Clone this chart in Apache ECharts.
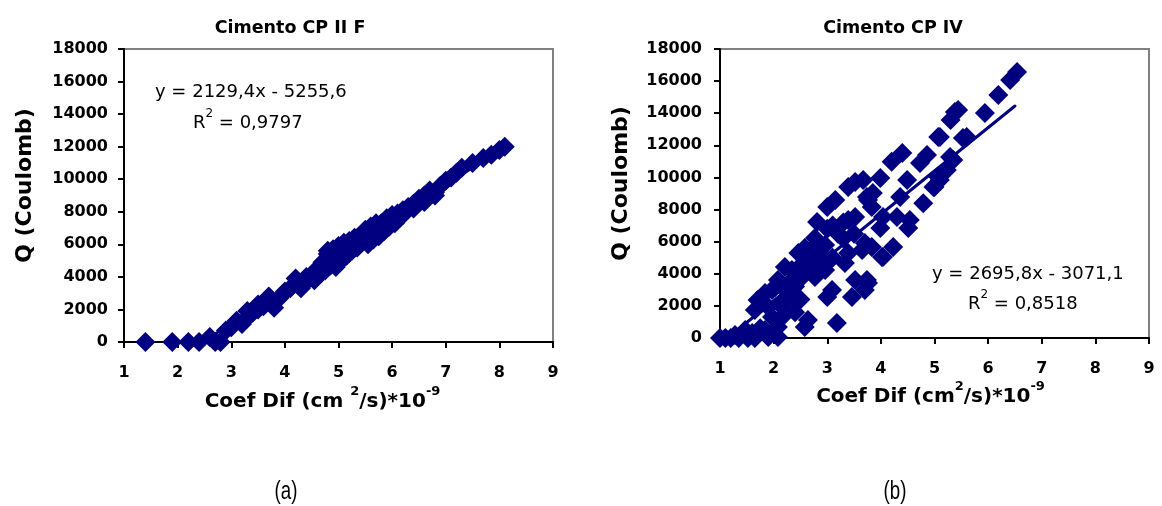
<!DOCTYPE html>
<html><head><meta charset="utf-8">
<script src="https://cdn.jsdelivr.net/npm/echarts@6/dist/echarts.min.js"></script>
<style>html,body{margin:0;padding:0;background:#fff}#c{width:1162px;height:506px}</style>
</head><body><div id="c"></div>
<script>
// ---- data ----
const titles = ['Cimento CP II F', 'Cimento CP IV'];
const captions = ['(a)', '(b)'];
const yTickLabels = ['0','2000','4000','6000','8000','10000','12000','14000','16000','18000'];
const xTickLabels = ['1','2','3','4','5','6','7','8','9'];

// Chart (a) Cimento CP II F : Coef Dif (x) vs Q (y)
const aX = [1.4,1.9,2.2,2.4,2.6,2.7,2.8,2.9,3.0,3.1,3.2,3.3,3.4,3.5,3.6,3.7,3.75,3.8,3.9,4.0,4.1,4.2,4.25,4.3,4.4,4.5,4.55,4.6,4.65,4.7,4.75,4.8,4.85,4.9,4.95,5.0,5.05,5.1,5.15,5.2,5.25,5.3,5.35,5.4,5.5,5.55,5.6,5.65,5.7,5.75,5.8,5.85,5.9,5.95,6.0,6.05,6.1,6.2,6.3,6.4,6.5,6.6,6.7,6.8,6.9,7.0,7.1,7.2,7.3,7.5,7.7,7.85,8.0,8.1,
  4.8,4.9,5.0,5.1,5.2,5.4,5.5,5.6,5.7,6.2,6.4,6.6,6.8,4.4,4.6,3.3,3.5];
const aY = [0,0,0,0,300,0,0,700,900,1300,1100,1500,1800,2000,2200,2800,2400,2100,2700,3100,3300,3900,3500,3300,3700,4100,3800,4500,4200,4900,4400,5400,4700,5100,4600,5300,5000,5700,5300,6200,5600,6400,5800,6100,6500,6000,6600,6300,6900,6500,7300,6800,7600,7100,7800,7300,7900,8100,8300,8500,8800,9000,9300,9200,9600,9900,10100,10400,10700,11000,11300,11500,11800,12000,
  5600,5700,5900,6100,5900,6500,6900,7100,7300,7800,8200,8600,9000,4000,4300,1900,2300];

// Chart (b) Cimento CP IV
const bX = [1.0,1.1,1.2,1.28,1.35,1.47,1.52,1.6,1.65,1.75,1.84,1.9,1.97,2.08,2.08,2.16,2.16,1.65,1.7,1.78,1.84,1.9,1.97,2.03,2.08,2.21,2.34,2.34,2.34,2.53,2.46,2.58,2.77,2.81,2.96,2.96,2.77,3.0,3.15,3.39,3.52,3.76,3.85,3.52,3.39,3.65,3.39,3.33,3.7,3.83,4.02,3.09,3.0,3.52,3.46,3.76,3.7,2.64,2.58,3.18,
  3.67,3.99,4.2,4.4,5.07,5.3,5.44,4.86,4.73,4.49,5.6,6.54,6.41,6.19,5.94,5.38,5.1,
  5.35,5.23,5.1,5.0,4.36,4.3,4.54,4.51,4.04,3.99,4.79,4.23,4.04,3.74,3.74,3.83,
  2.2,2.3,2.4,2.5,2.6,2.7,2.8,2.9,3.0,3.1,3.2,3.3,2.2,2.4,2.5,2.7,2.9,3.1,3.3,3.0,3.5,5.53,5.29,5.07,4.98];
const bY = [0,0,0,190,0,500,0,310,0,600,500,60,1310,690,60,1310,2180,1740,2370,2180,2800,1930,2990,3180,3610,4420,4240,3610,2550,3800,5300,5600,6230,7230,5790,4240,3800,8160,8600,9400,9720,8600,9030,7540,7350,5480,5300,4670,5920,5670,5050,2990,2550,3610,2550,3430,2990,1120,690,935,
  9840,9970,10970,11530,12520,13580,14200,11400,10900,9840,12520,16570,16070,15140,14020,14080,12520,
  11090,10470,9840,9400,8780,7540,7350,6850,7540,6850,8400,5670,5050,3610,8780,8160,
  3000,2800,3200,4500,4800,5500,4800,5200,6800,7000,6500,7200,1800,1600,2400,4200,4600,5000,6200,4800,6500,12460,11280,10030,9400];

// trendline equations as printed on the chart
const aSlope = 2129.4, aIntercept = -5255.6, aR2 = '0,9797', aEq = 'y = 2129,4x - 5255,6';
const bSlope = 2695.8, bIntercept = -3071.1, bR2 = '0,8518', bEq = 'y = 2695,8x - 3071,1';
const aLineX = [2.47, 8.1];
const bLineX = [1.14, 6.5];

// ---- chart ----
const FONT = 'DejaVu Sans';
const NAVY = '#000080';
const pts = (xs, ys) => xs.map((x, i) => [x, ys[i]]);
const line = (xs, m, c) => xs.map(x => [x, m * x + c]);

const grids = [
  {left: 124, top: 49, width: 429, height: 293},
  {left: 720, top: 49, width: 429, height: 289}
];
const xNames = [
  '{n|Coef Dif (cm }{s|2}{n|/s)*10}{s|-9}',
  '{n|Coef Dif (cm}{s|2}{n|/s)*10}{s|-9}'
];
const nameRich = {
  n: {fontFamily: FONT, fontWeight: 'bold', fontSize: 20, color: '#000', lineHeight: 27, verticalAlign: 'bottom'},
  s: {fontFamily: FONT, fontWeight: 'bold', fontSize: 13, color: '#000', lineHeight: 15, verticalAlign: 'top'}
};
const xNameGap = [43, 42];
const xNamePad = [[0, 32, 0, 0], [0, 8, 0, 0]];
const yLabelMargin = [16, 18];

function xAxis(i) {
  return {
    gridIndex: i, type: 'value', min: 1, max: 9, interval: 1,
    name: xNames[i], nameLocation: 'middle', nameGap: xNameGap[i], nameMoveOverlap: false,
    nameTextStyle: {rich: nameRich, padding: xNamePad[i]},
    axisLine: {show: true, onZero: false, lineStyle: {color: '#000', width: 2}},
    axisTick: {show: true, length: 6, lineStyle: {color: '#000', width: 2}},
    axisLabel: {margin: 23, fontFamily: FONT, fontWeight: 'bold', fontSize: 16, color: '#000',
      formatter: v => xTickLabels[Math.round(v) - 1]},
    splitLine: {show: false}
  };
}
function yAxis(i) {
  return {
    gridIndex: i, type: 'value', min: 0, max: 18000, interval: 2000,
    name: 'Q (Coulomb)', nameLocation: 'middle', nameGap: 88, nameRotate: 90, nameMoveOverlap: false,
    nameTextStyle: {fontFamily: FONT, fontWeight: 'bold', fontSize: 22, color: '#000', padding: [0, 0, 0, 20]},
    axisLine: {show: true, onZero: false, lineStyle: {color: '#000', width: 2}},
    axisTick: {show: true, length: 6, lineStyle: {color: '#000', width: 2}},
    axisLabel: {margin: yLabelMargin[i], fontFamily: FONT, fontWeight: 'bold', fontSize: 16, color: '#000',
      formatter: v => yTickLabels[Math.round(v / 2000)]},
    splitLine: {show: false}
  };
}

const chart = echarts.init(document.getElementById('c'), null, {renderer: 'canvas'});
const eqStyle = {fontFamily: FONT, fontSize: 18, fill: '#000', textAlign: 'left', textVerticalAlign: 'top'};
const r2Rich = {s: {fontFamily: FONT, fontSize: 12, verticalAlign: 'top', lineHeight: 13}, t: {fontFamily: FONT, fontSize: 18, lineHeight: 24, verticalAlign: 'bottom'}};
const capStyle = {fontFamily: 'Liberation Sans', fontSize: 26, fill: '#000', textAlign: 'center', textVerticalAlign: 'middle'};

chart.setOption({
  backgroundColor: '#fff',
  animation: false,
  title: [
    {text: titles[0], left: 285, top: 14, textAlign: 'center', textStyle: {fontFamily: FONT, fontWeight: 'bold', fontSize: 17.5, color: '#000'}},
    {text: titles[1], left: 888, top: 14, textAlign: 'center', textStyle: {fontFamily: FONT, fontWeight: 'bold', fontSize: 17.5, color: '#000'}}
  ],
  grid: grids.map(g => Object.assign({show: true, borderColor: '#808080', borderWidth: 2, backgroundColor: '#fff'}, g)),
  xAxis: [xAxis(0), xAxis(1)],
  yAxis: [yAxis(0), yAxis(1)],
  series: [
    {type: 'line', xAxisIndex: 0, yAxisIndex: 0, data: line(aLineX, aSlope, aIntercept), symbol: 'none',
      lineStyle: {color: NAVY, width: 3}, z: 1},
    {type: 'scatter', xAxisIndex: 0, yAxisIndex: 0, data: pts(aX, aY), symbol: 'diamond', symbolSize: 20,
      itemStyle: {color: NAVY, opacity: 1}, z: 2},
    {type: 'line', xAxisIndex: 1, yAxisIndex: 1, data: line(bLineX, bSlope, bIntercept), symbol: 'none',
      lineStyle: {color: NAVY, width: 3, cap: 'round'}, z: 3},
    {type: 'scatter', xAxisIndex: 1, yAxisIndex: 1, data: pts(bX, bY), symbol: 'diamond', symbolSize: 20,
      itemStyle: {color: NAVY, opacity: 1}, z: 2}
  ],
  graphic: [
    {type: 'text', x: 155, y: 83, z: 10, style: Object.assign({text: aEq}, eqStyle)},
    {type: 'text', x: 193, y: 108, z: 10, style: {text: '{t|R}{s|2}{t| = ' + aR2 + '}', rich: r2Rich, fill: '#000'}},
    {type: 'text', x: 932, y: 265, z: 10, style: Object.assign({text: bEq}, eqStyle)},
    {type: 'text', x: 968, y: 289, z: 10, style: {text: '{t|R}{s|2}{t| = ' + bR2 + '}', rich: r2Rich, fill: '#000'}},
    {type: 'text', x: 286, y: 492, scaleX: 0.72, z: 10, style: Object.assign({text: captions[0]}, capStyle)},
    {type: 'text', x: 895, y: 492, scaleX: 0.72, z: 10, style: Object.assign({text: captions[1]}, capStyle)}
  ]
});
</script>
</body></html>
